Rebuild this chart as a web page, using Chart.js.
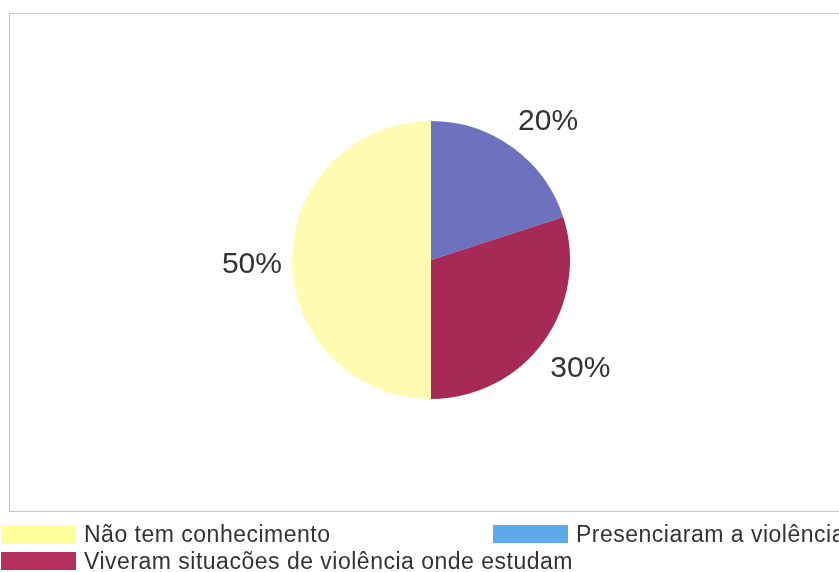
<!DOCTYPE html>
<html>
<head>
<meta charset="utf-8">
<script src="https://cdn.jsdelivr.net/npm/chart.js@4/dist/chart.umd.min.js"></script>
<style>
  body { margin: 0; background: #fff; font-family: "Liberation Sans", Arial, sans-serif; }
  #wrap { position: relative; width: 839px; height: 572px; overflow: hidden; }
  #frame { position: absolute; left: 9px; top: 13px; width: 840px; height: 497px; border: 1px solid #c8c8c8; }
  #chartBox { position: absolute; left: 0; top: 0; width: 839px; height: 572px; }
  .leg { position: absolute; font-size: 23px; letter-spacing: 0.5px; color: #333; white-space: nowrap; line-height: 23px; }
  .leg span { position: absolute; left: 0; top: 0; width: 75px; height: 18px; }
  .leg b { font-weight: normal; position: absolute; left: 83px; top: -2px; }
</style>
</head>
<body>
<div id="wrap">
  <div id="frame"></div>
  <div id="chartBox"><canvas id="pieChart"></canvas></div>
  <div id="legend"></div>
</div>
<script>
    // slices clockwise from 12 o'clock
    var labels = ["Presenciaram a violência", "Viveram situacões de violência onde estudam", "Não tem conhecimento"];
    var values = [20, 30, 50];
    var colors = ["#6c72be", "#a62a55", "#fffbb2"];

    // legend as printed under the chart
    var legendLabels = ["Não tem conhecimento", "Presenciaram a violência", "Viveram situacões de violência onde estudam"];
    var legendColors = ["#ffff9c", "#5eaae8", "#b3305d"];
    var legendPos = [[1, 525], [493, 525], [1, 552]];

    var pctLabels = {
        id: 'pctLabels',
        afterDatasetsDraw: function (chart) {
            var ctx = chart.ctx;
            var meta = chart.getDatasetMeta(0);
            var total = values.reduce(function (a, b) { return a + b; }, 0);
            // small hand nudges so labels sit where the print has them
            var nudge = [[10, 9], [2, 2], [3, 5]];
            ctx.save();
            ctx.font = '30px "Liberation Sans", Arial, sans-serif';
            ctx.fillStyle = '#333';
            ctx.textAlign = 'center';
            ctx.textBaseline = 'middle';
            meta.data.forEach(function (arc, i) {
                var p = arc.getProps(['x', 'y', 'startAngle', 'endAngle', 'outerRadius'], true);
                var mid = (p.startAngle + p.endAngle) / 2;
                var r = p.outerRadius * 1.31;
                var txt = Math.round(values[i] / total * 100) + '%';
                ctx.fillText(txt, p.x + Math.cos(mid) * r + nudge[i][0], p.y + Math.sin(mid) * r + nudge[i][1]);
            });
            ctx.restore();
        }
    };

    var ctxP = document.getElementById("pieChart").getContext('2d');
    var myPieChart = new Chart(ctxP, {
        type: 'pie',
        data: {
            labels: labels,
            datasets: [{
                data: values,
                backgroundColor: colors,
                borderWidth: 0
            }]
        },
        options: {
            responsive: true,
            maintainAspectRatio: false,
            animation: false,
            layout: { padding: { left: 292, right: 269, top: 121, bottom: 173 } },
            plugins: {
                legend: { display: false },
                tooltip: { enabled: false }
            }
        },
        plugins: [pctLabels]
    });

    var legHtml = '';
    for (var i = 0; i < legendLabels.length; i++) {
        legHtml += '<div class="leg" style="left:' + legendPos[i][0] + 'px;top:' + legendPos[i][1] + 'px">' +
            '<span style="background:' + legendColors[i] + '"></span><b>' + legendLabels[i] + '</b></div>';
    }
    document.getElementById("legend").innerHTML = legHtml;
</script>
</body>
</html>
